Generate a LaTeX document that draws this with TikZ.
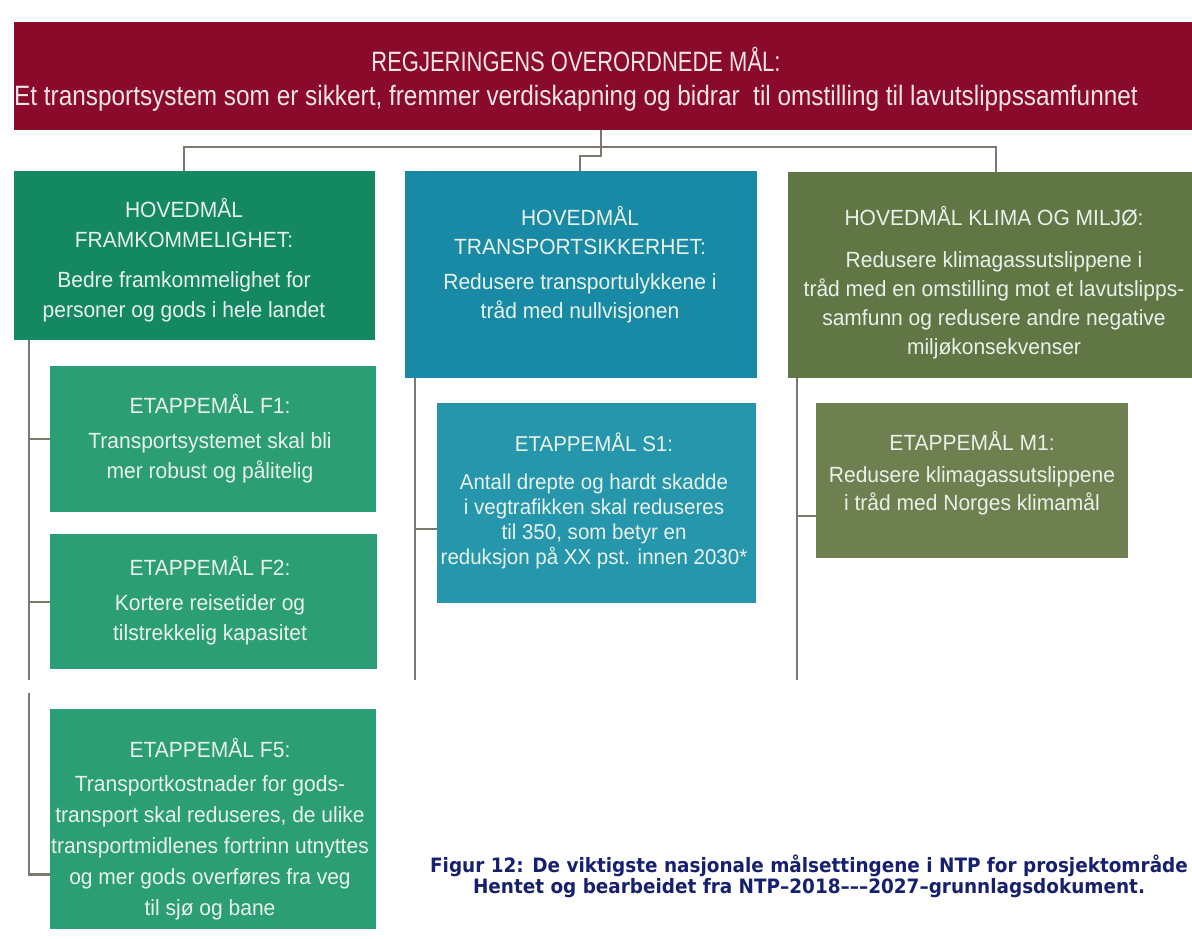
\documentclass[tikz,border=0pt]{standalone}
\usepackage{fontspec}
\setmainfont{Liberation Sans}
\newfontfamily\bannerfont[FakeStretch=0.87]{Liberation Sans}
\newfontfamily\bannercaps[FakeStretch=0.785]{Liberation Sans}
\newfontfamily\boxfont[FakeStretch=0.955]{Liberation Sans}
\newfontfamily\captionfont[FakeStretch=0.93]{DejaVu Sans}
\usepackage{xcolor}
\usepackage{tikz}

\definecolor{regjred}{RGB}{138,10,43}
\definecolor{regjtext}{RGB}{243,228,232}
\definecolor{framgreen}{RGB}{20,136,96}
\definecolor{framlight}{RGB}{44,158,118}
\definecolor{sikkblue}{RGB}{24,138,166}
\definecolor{sikklight}{RGB}{38,150,172}
\definecolor{miljoolive}{RGB}{96,118,68}
\definecolor{miljolight}{RGB}{110,128,80}
\definecolor{boxtext}{RGB}{232,242,234}
\definecolor{linkgray}{RGB}{125,120,112}
\definecolor{capnavy}{RGB}{22,32,110}

\tikzset{
    goalbox/.style={fill=#1, draw=none, anchor=north west, inner sep=0pt},
    goaltext/.style={text=boxtext, align=center, anchor=north, inner sep=0pt,
        font=\boxfont\fontsize{22}{30}\selectfont},
    link/.style={draw=linkgray, line width=2.2pt},
}

\begin{document}
\begin{tikzpicture}[x=1pt, y=-1pt]
        \useasboundingbox[fill=white] (0,0) rectangle (1192,939);

            % overordnet maal
            \node[goalbox=regjred, minimum width=1178pt, minimum height=108pt] (regj) at (14,22) {};
            \node[text=regjtext, align=center, anchor=north, inner sep=0pt,
                font=\bannerfont\fontsize{28}{34}\selectfont] (regjt) at (576,47)
                {{\bannercaps REGJERINGENS OVERORDNEDE MÅL:}\\
                 Et transportsystem som er sikkert, fremmer verdiskapning og bidrar\ \ til omstilling til lavutslippssamfunnet};

            % hovedmaal
            \node[goalbox=framgreen, minimum width=361pt, minimum height=169pt] (hmF) at (14,171) {};
            \node[goalbox=sikkblue, minimum width=352pt, minimum height=207pt] (hmS) at (405,171) {};
            \node[goalbox=miljoolive, minimum width=404pt, minimum height=206pt] (hmM) at (788,172) {};

            \node[goaltext] (hmFt) at (184,198) {HOVEDMÅL\\ FRAMKOMMELIGHET:\\[10pt]
                Bedre framkommelighet for\\ personer og gods i hele landet};
            \node[goaltext, font=\boxfont\fontsize{22}{29}\selectfont] (hmSt) at (580,206) {HOVEDMÅL\\ TRANSPORTSIKKERHET:\\[6pt]
                Redusere transportulykkene i\\ tråd med nullvisjonen};
            \node[goaltext, font=\boxfont\fontsize{22}{29}\selectfont] (hmMt) at (994,206) {HOVEDMÅL KLIMA OG MILJØ:\\[13pt]
                Redusere klimagassutslippene i\\ tråd med en omstilling mot et lavutslipps-\\
                samfunn og redusere andre negative\\ miljøkonsekvenser};

            % etappemaal
            \node[goalbox=framlight, minimum width=326pt, minimum height=146pt] (f1) at (50,366) {};
            \node[goalbox=framlight, minimum width=327pt, minimum height=135pt] (f2) at (50,534) {};
            \node[goalbox=framlight, minimum width=326pt, minimum height=220pt] (f5) at (50,709) {};
            \node[goalbox=sikklight, minimum width=319pt, minimum height=200pt] (s1) at (437,403) {};
            \node[goalbox=miljolight, minimum width=312pt, minimum height=155pt] (m1) at (816,403) {};

            \node[goaltext] (f1t) at (210,394) {ETAPPEMÅL F1:\\[5pt]
                Transportsystemet skal bli\\ mer robust og pålitelig};
            \node[goaltext] (f2t) at (210,556) {ETAPPEMÅL F2:\\[5pt]
                Kortere reisetider og\\ tilstrekkelig kapasitet};
            \node[goaltext, font=\boxfont\fontsize{22}{31}\selectfont] (f5t) at (210,738) {ETAPPEMÅL F5:\\[3pt]
                Transportkostnader for gods-\\ transport skal reduseres, de ulike\\
                transportmidlenes fortrinn utnyttes\\ og mer gods overføres fra veg\\ til sjø og bane};
            \node[goaltext, font=\boxfont\fontsize{21.5}{25}\selectfont] (s1t) at (594,433) {ETAPPEMÅL S1:\\[13pt]
                Antall drepte og hardt skadde\\ i vegtrafikken skal reduseres\\
                til 350, som betyr en\\ reduksjon på XX pst. innen 2030*};
            \node[goaltext, font=\boxfont\fontsize{22}{28}\selectfont] (m1t) at (972,431) {ETAPPEMÅL M1:\\[4pt]
                Redusere klimagassutslippene\\ i tråd med Norges klimamål};

            % forbindelser
            \coordinate (busL) at (184,147);
            \coordinate (busR) at (996,147);
            \coordinate (drop) at (601,156);
            \coordinate (jog) at (580,156);
            \draw[link] (hmF.north -| busL) -- (busL) -- (busR) -- (hmM.north -| busR);
            \draw[link] (regj.south -| drop) -- (drop) -- (jog) -- (hmS.north -| jog);

            \coordinate (spineF) at (29,680);
            \coordinate (spineFb) at (29,693);
            \coordinate (spineS) at (415,680);
            \coordinate (spineM) at (797,680);
            \coordinate (f5in) at ([yshift=55pt]f5.south west);
            \coordinate (s1in) at ([yshift=-126pt]s1.north west);
            \coordinate (m1in) at ([yshift=-113pt]m1.north west);

            \draw[link] (hmF.south -| spineF) -- (spineF);
            \draw[link] (f1.west) -- (f1.west -| spineF);
            \draw[link] (f2.west) -- (f2.west -| spineF);
            \draw[link] (spineFb) |- (f5in);
            \draw[link] (hmS.south -| spineS) -- (spineS);
            \draw[link] (s1in) -- (s1in -| spineS);
            \draw[link] (hmM.south -| spineM) -- (spineM);
            \draw[link] (m1in) -- (m1in -| spineM);

            % figurtekst
            \node[text=capnavy, align=center, inner sep=0pt,
                font=\captionfont\bfseries\fontsize{19.8}{21}\selectfont] (cap) at (809,876)
                {Figur 12: De viktigste nasjonale målsettingene i NTP for prosjektområde\\
                 Hentet og bearbeidet fra NTP–2018–––2027–grunnlagsdokument.};

        \end{tikzpicture}
\end{document}
